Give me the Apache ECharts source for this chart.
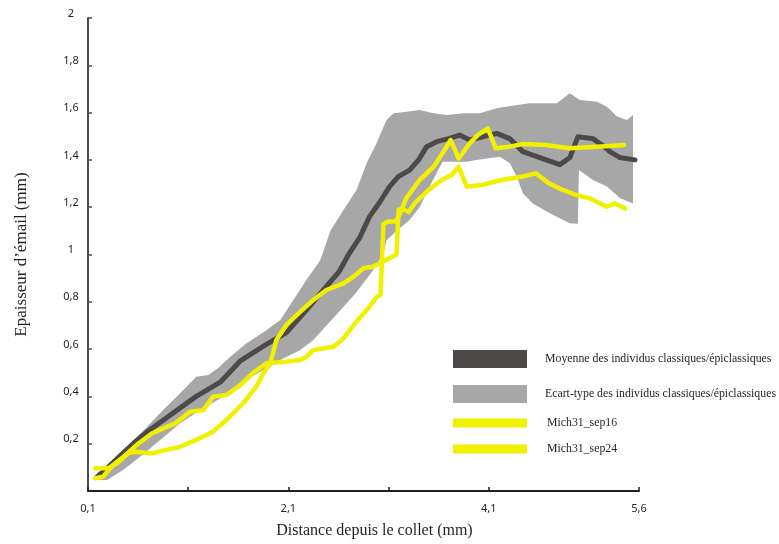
<!DOCTYPE html>
<html>
<head>
<meta charset="utf-8">
<script src="https://cdn.jsdelivr.net/npm/echarts@6/dist/echarts.min.js"></script>
<style>
  html, body { margin: 0; padding: 0; background: #ffffff; }
  #chart { width: 779px; height: 544px; }
</style>
</head>
<body>
<div id="chart"></div>
<script>
// tick values
var xTickValues = [0.1, 1.1, 2.1, 3.1, 4.1, 5.6];
var xLabelValues = [0.1, 2.1, 4.1, 5.6];

// ecart-type band: upper and lower edges, [distance, epaisseur]
var bandUpper = [
  [0.2, 0.075], [0.35, 0.117], [0.52, 0.2], [0.69, 0.272], [0.85, 0.342], [1.02, 0.413],
  [1.18, 0.483], [1.3, 0.49], [1.4, 0.52], [1.52, 0.568], [1.68, 0.624], [1.88, 0.68],
  [2.02, 0.723], [2.15, 0.808], [2.28, 0.892], [2.42, 0.977], [2.52, 1.1], [2.65, 1.188],
  [2.78, 1.273], [2.88, 1.385], [2.98, 1.47], [3.08, 1.569], [3.15, 1.597], [3.28, 1.604],
  [3.41, 1.611], [3.55, 1.597], [3.68, 1.59], [3.85, 1.597], [4.01, 1.597], [4.18, 1.618],
  [4.38, 1.632], [4.51, 1.64], [4.78, 1.64], [4.91, 1.682], [5.01, 1.653], [5.18, 1.646],
  [5.28, 1.625], [5.38, 1.583], [5.48, 1.569], [5.54, 1.59]
];
var bandLower = [
  [0.2, 0.047], [0.29, 0.047], [0.45, 0.089], [0.62, 0.145], [0.82, 0.216], [1.02, 0.286],
  [1.22, 0.342], [1.45, 0.399], [1.62, 0.455], [1.82, 0.504], [2.02, 0.554], [2.22, 0.596],
  [2.35, 0.638], [2.48, 0.7], [2.61, 0.76], [2.78, 0.84], [2.94, 0.93], [3.05, 1.005],
  [3.08, 1.06], [3.18, 1.1], [3.31, 1.146], [3.41, 1.2], [3.51, 1.287], [3.6, 1.36],
  [3.64, 1.392], [3.88, 1.392], [3.98, 1.4], [4.08, 1.406], [4.21, 1.413], [4.31, 1.387],
  [4.38, 1.329], [4.44, 1.259], [4.54, 1.216], [4.71, 1.174], [4.91, 1.132], [4.99, 1.13],
  [5.0, 1.357], [5.14, 1.315], [5.28, 1.287], [5.41, 1.239], [5.54, 1.216]
];

// moyenne
var meanLine = [
  [0.19, 0.06], [0.3, 0.1], [0.45, 0.16], [0.55, 0.2], [0.69, 0.25], [0.95, 0.33],
  [1.18, 0.4], [1.42, 0.46], [1.62, 0.55], [1.88, 0.62], [2.08, 0.67], [2.28, 0.765],
  [2.45, 0.85], [2.61, 0.93], [2.71, 1.006], [2.81, 1.07], [2.91, 1.16], [3.01, 1.22],
  [3.11, 1.287], [3.2, 1.33], [3.31, 1.357], [3.4, 1.4], [3.48, 1.456], [3.58, 1.477],
  [3.7, 1.49], [3.81, 1.505], [3.91, 1.484], [4.04, 1.498], [4.18, 1.512], [4.31, 1.49],
  [4.44, 1.435], [4.61, 1.41], [4.81, 1.38], [4.91, 1.41], [4.99, 1.498], [5.14, 1.49],
  [5.24, 1.46], [5.31, 1.435], [5.41, 1.41], [5.56, 1.4]
];

var sep16 = [
  [0.17, 0.054], [0.25, 0.06], [0.35, 0.11], [0.47, 0.15], [0.6, 0.2], [0.74, 0.244],
  [0.97, 0.286], [1.12, 0.335], [1.25, 0.342], [1.35, 0.399], [1.48, 0.406], [1.62, 0.448],
  [1.75, 0.5], [1.88, 0.54], [2.08, 0.547], [2.22, 0.554], [2.28, 0.568], [2.35, 0.596],
  [2.55, 0.61], [2.65, 0.645], [2.78, 0.716], [2.91, 0.779], [2.98, 0.82], [3.02, 0.83],
  [3.05, 1.13], [3.1, 1.14], [3.17, 1.14], [3.2, 1.16], [3.28, 1.24], [3.41, 1.315],
  [3.55, 1.371], [3.68, 1.456], [3.72, 1.484], [3.8, 1.406], [3.91, 1.47], [3.99, 1.505],
  [4.09, 1.533], [4.17, 1.449], [4.31, 1.456], [4.44, 1.467], [4.67, 1.463], [4.91, 1.449],
  [5.18, 1.456], [5.45, 1.463]
];

var sep24 = [
  [0.17, 0.096], [0.3, 0.096], [0.4, 0.12], [0.5, 0.16], [0.57, 0.166], [0.74, 0.159],
  [0.87, 0.173], [1.02, 0.187], [1.18, 0.216], [1.35, 0.251], [1.48, 0.3], [1.65, 0.371],
  [1.78, 0.441], [1.85, 0.498], [1.92, 0.54], [1.98, 0.638], [2.08, 0.702], [2.22, 0.758],
  [2.35, 0.808], [2.48, 0.85], [2.65, 0.878], [2.75, 0.906], [2.85, 0.942], [2.94, 0.948],
  [3.0, 0.96], [3.18, 1.0], [3.2, 1.19], [3.25, 1.19], [3.3, 1.18], [3.36, 1.216],
  [3.5, 1.273], [3.63, 1.315], [3.73, 1.336], [3.8, 1.371], [3.88, 1.287], [4.03, 1.294],
  [4.23, 1.315], [4.43, 1.329], [4.57, 1.343], [4.7, 1.301], [4.84, 1.273], [4.97, 1.252],
  [5.11, 1.237], [5.28, 1.202], [5.36, 1.216], [5.46, 1.195]
];

var nameMean = "Moyenne des individus classiques/épiclassiques";
var nameBand = "Ecart-type des individus classiques/épiclassiques";
var name16 = "Mich31_sep16";
var name24 = "Mich31_sep24";

var colMean = "#4d4949";
var colBand = "#a7a7a7";
var colYellow = "#f0f000";

function comma(v) {
  return String(Math.round(v * 10) / 10).replace(".", ",");
}

var chart = echarts.init(document.getElementById("chart"));
chart.setOption({
  backgroundColor: "#ffffff",
  animation: false,
  grid: { left: 88, right: 140, top: 18, bottom: 53 },
  legend: [
    {
      orient: "vertical",
      left: 448,
      top: 345,
      itemWidth: 74,
      itemHeight: 18,
      itemGap: 17,
      selectedMode: false,
      icon: "rect",
      textStyle: { fontFamily: "Liberation Serif", fontSize: 11.8, color: "#231f20", padding: [0, 0, 0, 13] },
      data: [
        { name: nameMean, itemStyle: { color: colMean, borderWidth: 0 } },
        { name: nameBand, itemStyle: { color: colBand, borderWidth: 0 } }
      ]
    },
    {
      orient: "vertical",
      left: 448,
      top: 412,
      itemWidth: 74,
      itemHeight: 9,
      itemGap: 14,
      selectedMode: false,
      icon: "rect",
      textStyle: { fontFamily: "Liberation Serif", fontSize: 11.8, color: "#231f20", padding: [0, 0, 0, 15] },
      data: [
        { name: name16, itemStyle: { color: colYellow, borderWidth: 0 } },
        { name: name24, itemStyle: { color: colYellow, borderWidth: 0 } }
      ]
    }
  ],
  xAxis: {
    type: "value",
    min: 0.1,
    max: 5.6,
    name: "Distance depuis le collet (mm)",
    nameLocation: "middle",
    nameGap: 32,
    nameTextStyle: { fontFamily: "Liberation Serif", fontSize: 16, color: "#231f20", padding: [0, 0, 0, 22] },
    splitLine: { show: false },
    axisLine: { lineStyle: { color: "#231f20", width: 2 } },
    axisTick: { inside: true, length: 4, customValues: xTickValues, lineStyle: { color: "#231f20", width: 1.5 } },
    axisLabel: {
      customValues: xLabelValues,
      margin: 12,
      fontFamily: "Noto Sans",
      fontSize: 11,
      color: "#231f20",
      formatter: comma
    }
  },
  yAxis: {
    type: "value",
    min: 0,
    max: 2,
    interval: 0.2,
    name: "Epaisseur d’émail (mm)",
    nameLocation: "middle",
    nameGap: 58,
    nameTextStyle: { fontFamily: "Liberation Serif", fontSize: 17, color: "#231f20" },
    splitLine: { show: false },
    axisLine: { lineStyle: { color: "#4d4d4d", width: 2 } },
    axisTick: { inside: true, length: 4, lineStyle: { color: "#4d4d4d", width: 1.5 } },
    axisLabel: {
      showMinLabel: false,
      margin: 17,
      align: "center",
      verticalAlign: "bottom",
      lineHeight: 9,
      fontFamily: "Noto Sans",
      fontSize: 11,
      color: "#231f20",
      formatter: comma
    }
  },
  series: [
    {
      name: nameBand,
      type: "custom",
      itemStyle: { color: colBand },
      data: [[0.1, 0]],
      encode: { x: 0, y: 1 },
      z: 1,
      renderItem: function (params, api) {
        var pts = [];
        bandUpper.forEach(function (p) { pts.push(api.coord(p)); });
        bandLower.slice().reverse().forEach(function (p) { pts.push(api.coord(p)); });
        return { type: "polygon", shape: { points: pts }, style: { fill: colBand } };
      }
    },
    {
      name: nameMean,
      type: "line",
      data: meanLine,
      showSymbol: false,
      color: colMean,
      z: 2,
      lineStyle: { color: colMean, width: 5, cap: "round", join: "round" }
    },
    {
      name: name16,
      type: "line",
      data: sep16,
      showSymbol: false,
      color: colYellow,
      z: 3,
      lineStyle: { color: colYellow, width: 4.5, cap: "round", join: "round" }
    },
    {
      name: name24,
      type: "line",
      data: sep24,
      showSymbol: false,
      color: colYellow,
      z: 3,
      lineStyle: { color: colYellow, width: 4.5, cap: "round", join: "round" }
    }
  ]
});
</script>
</body>
</html>
